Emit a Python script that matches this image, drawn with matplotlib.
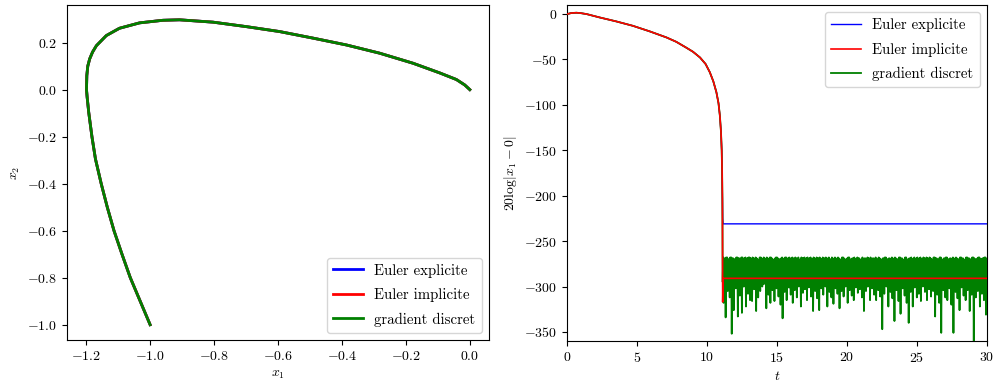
import matplotlib
matplotlib.use("Agg")
import matplotlib.pyplot as plt
import numpy as np

plt.rcParams['font.family'] = 'serif'
plt.rcParams['font.serif'] = ['cmr10']
plt.rcParams['mathtext.fontset'] = 'cm'
plt.rcParams['axes.formatter.use_mathtext'] = True
plt.rcParams['font.size'] = 10

labels = ["Euler explicite", "Euler implicite", "gradient discret"]
colors = ["blue", "red", "green"]

# phase-plane trajectory (x1, x2)
traj_x1 = [-1.0, -1.031, -1.062, -1.088, -1.113, -1.134, -1.153, -1.171, -1.182, -1.192,
           -1.197, -1.199, -1.198, -1.195, -1.189, -1.180, -1.168, -1.137, -1.096, -1.033,
           -0.960, -0.908, -0.803, -0.699, -0.595, -0.490, -0.386, -0.282, -0.177, -0.094,
           -0.042, -0.016, 0.0]
traj_x2 = [-1.0, -0.9, -0.8, -0.7, -0.6, -0.5, -0.4, -0.295, -0.2, -0.097,
           -0.032, 0.0, 0.060, 0.100, 0.131, 0.160, 0.187, 0.230, 0.261, 0.284,
           0.295, 0.297, 0.287, 0.268, 0.247, 0.219, 0.190, 0.155, 0.112, 0.071,
           0.043, 0.020, 0.0]

# 20 log|x1| common decay (t, dB)
curve_t = [0.0, 0.3, 0.67, 1.0, 1.4, 2.33, 3.5, 4.7, 5.9, 7.1, 7.8, 8.5, 9.0, 9.5,
           9.9, 10.2, 10.45, 10.67, 10.82, 10.92, 11.0, 11.05, 11.08, 11.1]
curve_db = [0.0, 1.1, 1.5, 1.0, 0.0, -3.7, -8.0, -12.9, -19.0, -25.7, -30.5, -36.8, -41.5, -47.8,
            -55.0, -64.0, -74.0, -86.0, -98.0, -112.0, -130.0, -150.0, -175.0, -204.0]

t_end = 30.0
explicit_tail_t = [11.12, 11.15, t_end]
explicit_tail_db = [-225.0, -231.0, -231.0]
implicit_tail_t = [11.12, 11.16, t_end]
implicit_tail_db = [-317.0, -291.0, -291.0]

grad_bottom = [-318, -334, -305, -312, -352, -326, -302, -333, -310, -329,
               -300, -322, -308, -315, -316, -303, -327, -312, -305, -300,
               -297, -324, -309, -318, -304, -316, -302, -311, -320, -335,
               -306, -315, -301, -309, -318, -304, -312, -300, -322, -307,
               -303, -315, -301, -311, -327, -305, -313, -326, -302, -309,
               -300, -322, -306, -312, -319, -302, -308, -324, -305, -311,
               -300, -318, -304, -310, -315, -301, -307, -303, -312, -327,
               -305, -300, -315, -302, -309, -315, -304, -311, -347, -308,
               -300, -322, -306, -313, -338, -304, -316, -330, -302, -310,
               -318, -340, -306, -322, -301, -312, -308, -316, -300, -306,
               -315, -303, -311, -305, -333, -309, -318, -351, -304, -312,
               -315, -302, -320, -351, -306, -313, -326, -301, -310, -315,
               -304, -327, -309, -362, -312, -305, -322, -308, -315, -331]
grad_shallow = [-296, -293, -299, -294, -301, -295, -292, -298, -294, -300,
                -293, -297, -295, -292, -299, -294, -296, -301, -293, -297,
                -295, -292, -298, -294, -300, -293, -296, -299, -292, -295,
                -297, -294, -301, -293, -298, -295, -292, -299, -294, -296,
                -300, -293, -297, -295, -292, -298, -294, -301, -293, -296,
                -299, -292, -295, -297, -294, -300, -293, -298, -295, -292,
                -296, -299, -294, -301, -293, -297, -295, -292, -298, -294,
                -300, -293, -296, -299, -292, -295, -297, -294, -301, -293,
                -298, -295, -292, -299, -294, -296, -300, -293, -297, -295,
                -292, -298, -294, -301, -293, -296, -299, -292, -295, -297,
                -294, -300, -293, -298, -295, -292, -296, -299, -294, -301,
                -293, -297, -295, -292, -298, -294, -300, -293, -296, -299,
                -292, -295, -297, -294, -301, -293, -298, -295, -292, -299]
grad_top = [-268, -269, -268, -270, -268, -269, -271, -268, -269, -268,
            -270, -268, -269, -268, -271, -269, -268, -270, -268, -269,
            -268, -270, -269, -268, -269, -271, -268, -269, -270, -268,
            -269, -268, -270, -269, -268, -271, -269, -268, -270, -269,
            -268, -269, -271, -268, -270, -269, -268, -269, -270, -268,
            -269, -271, -268, -270, -269, -268, -270, -269, -271, -268,
            -270, -269, -268, -271, -269, -270, -268, -269, -271, -270,
            -269, -268, -270, -271, -269, -268, -270, -269, -271, -269,
            -268, -270, -269, -268, -271, -269, -270, -268, -269, -270,
            -268, -271, -269, -270, -268, -269, -271, -268, -270, -269,
            -268, -270, -269, -271, -268, -269, -270, -268, -271, -269,
            -268, -270, -269, -268, -271, -269, -270, -268, -269, -270,
            -268, -269, -271, -268, -270, -269, -268, -270, -269, -268]
grad_top2 = [-269, -268, -270, -268, -269, -270, -268, -269, -271, -268,
             -269, -270, -268, -269, -268, -270, -269, -271, -268, -270,
             -269, -268, -271, -268, -270, -269, -268, -270, -269, -271,
             -268, -269, -268, -270, -269, -268, -270, -271, -268, -269,
             -270, -268, -269, -270, -268, -271, -269, -268, -270, -269,
             -268, -269, -270, -268, -271, -269, -268, -270, -268, -269,
             -271, -268, -270, -269, -268, -270, -269, -271, -268, -269,
             -270, -269, -268, -269, -270, -271, -268, -270, -269, -268,
             -270, -269, -271, -269, -268, -270, -268, -269, -271, -268,
             -270, -269, -268, -270, -271, -268, -269, -270, -268, -271,
             -269, -268, -270, -268, -269, -271, -268, -270, -269, -268,
             -270, -269, -271, -269, -268, -270, -268, -269, -271, -268,
             -269, -270, -268, -269, -271, -268, -270, -269, -268, -270]

fig = plt.figure(figsize=(9.95, 3.85), dpi=100)
ax1 = fig.add_axes([67/995, 1-340/385, (489-67)/995, (340-5)/385])
ax2 = fig.add_axes([567/995, 1-341/385, (987-567)/995, (341-5)/385])

for lab, c in zip(labels, colors):
    ax1.plot(traj_x1, traj_x2, color=c, lw=2, label=lab)
ax1.set_xlim(-1.26, 0.06)
ax1.set_ylim(-1.065, 0.36)
ax1.set_xticks([-1.2, -1.0, -0.8, -0.6, -0.4, -0.2, 0.0])
ax1.set_yticks([-1.0, -0.8, -0.6, -0.4, -0.2, 0.0, 0.2])
ax1.set_xlabel(r'$x_1$')
ax1.set_ylabel(r'$x_2$')
ax1.legend(loc='lower right', fontsize=10.7, labelspacing=0.7)

# right panel: noisy tail of the discrete-gradient series
n = len(grad_bottom)
tail_db = np.empty(4 * n)
tail_db[0::4] = grad_top
tail_db[1::4] = grad_bottom
tail_db[2::4] = grad_top2
tail_db[3::4] = grad_shallow
tail_t = np.linspace(11.15, t_end, 4 * n)

exp_t = curve_t + explicit_tail_t
exp_db = curve_db + explicit_tail_db
imp_t = curve_t + implicit_tail_t
imp_db = curve_db + implicit_tail_db
gr_t = np.concatenate([curve_t, [11.12], tail_t])
gr_db = np.concatenate([curve_db, [-295.0], tail_db])

ax2.plot(exp_t, exp_db, color='blue', lw=1, label=labels[0], zorder=2)
ax2.plot(imp_t, imp_db, color='red', lw=1.2, label=labels[1], zorder=4)
ax2.plot(gr_t, gr_db, color='green', lw=1.3, label=labels[2], zorder=3)
ax2.set_xlim(0, 30)
ax2.set_ylim(-360, 10)
ax2.set_xticks([0, 5, 10, 15, 20, 25, 30])
ax2.set_yticks([0, -50, -100, -150, -200, -250, -300, -350])
ax2.set_xlabel(r'$t$')
ax2.set_ylabel(r'$20\log|x_1 - 0|$')
ax2.legend(loc='upper right', fontsize=10.7, labelspacing=0.7)

fig.savefig('out.png', dpi=100)
